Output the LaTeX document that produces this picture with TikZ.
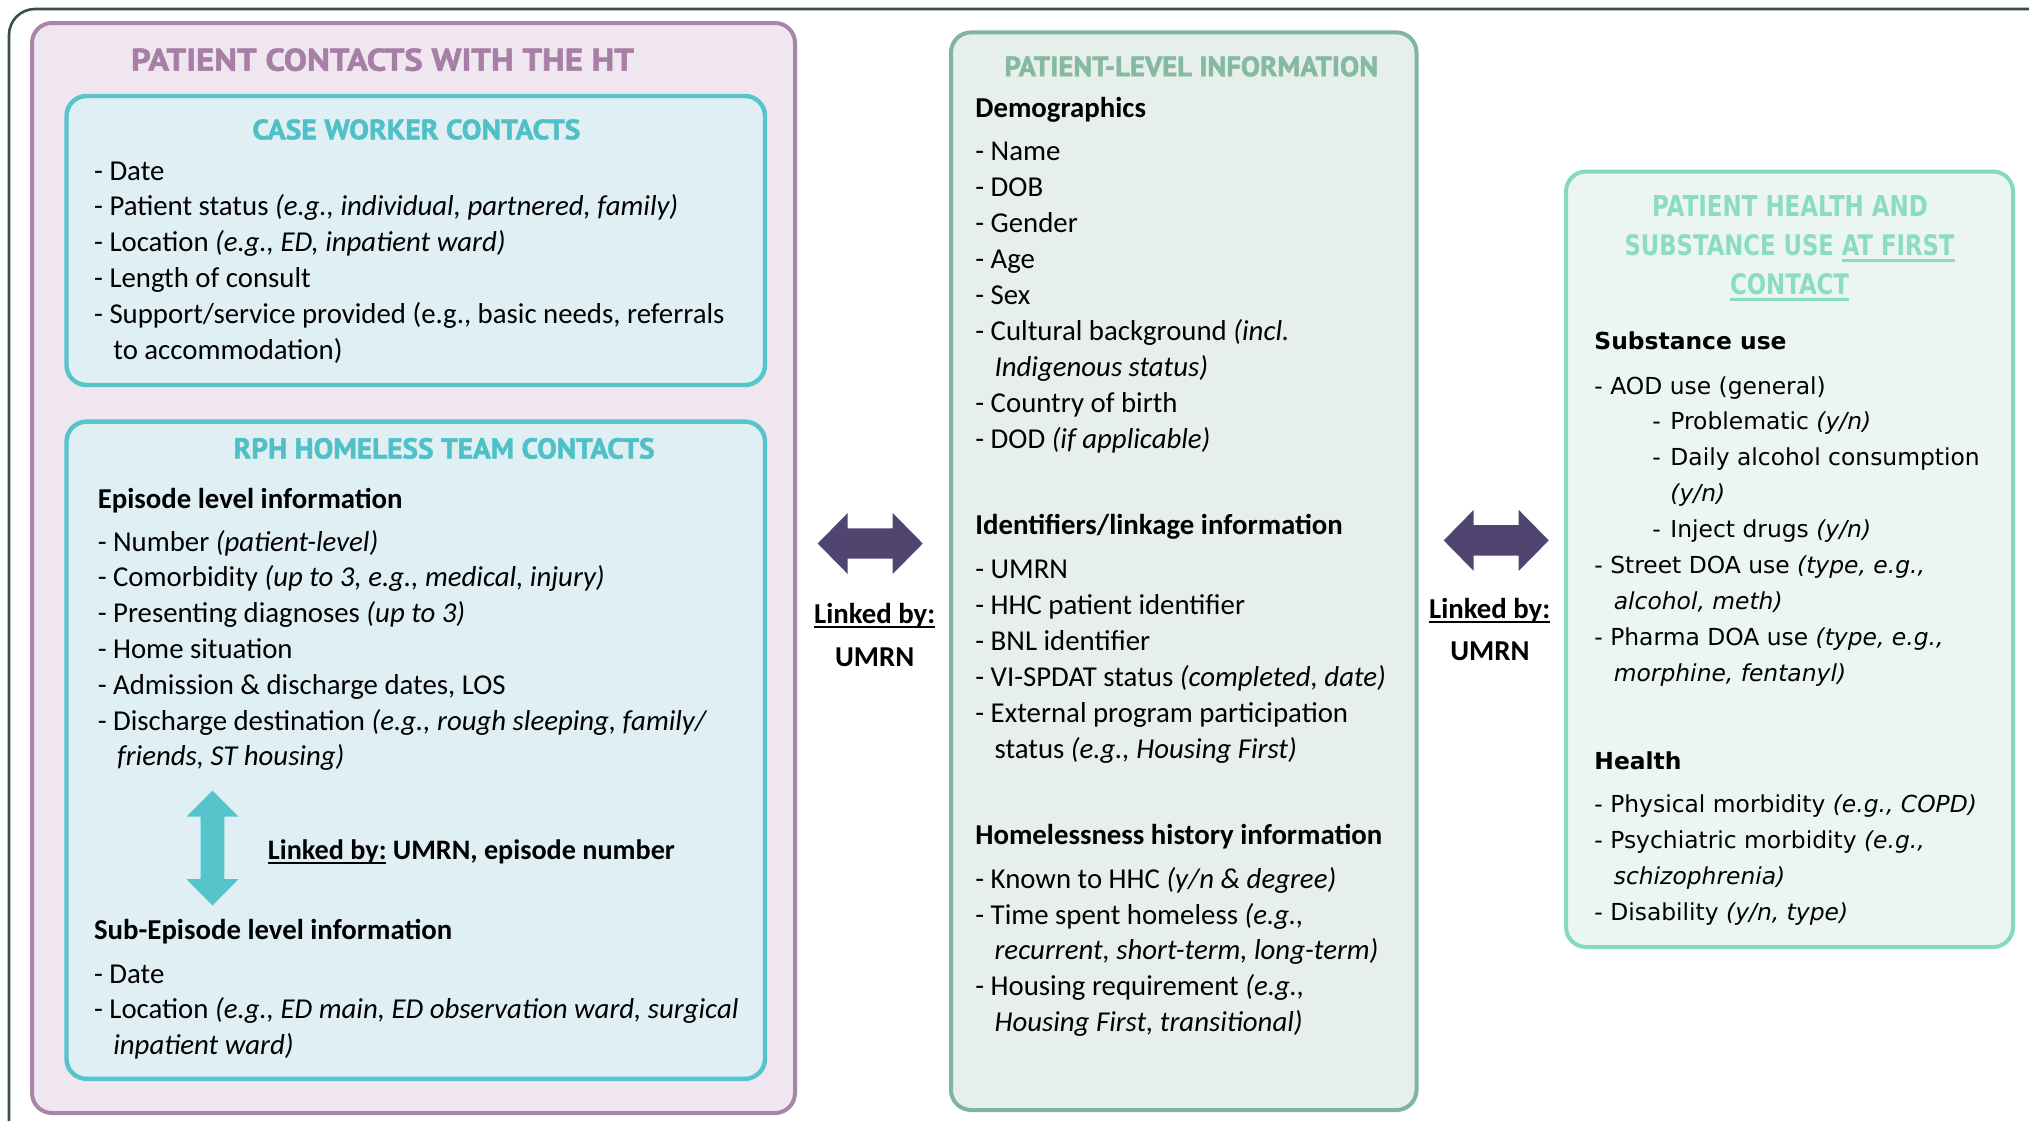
\documentclass[tikz,border=0pt]{standalone}
\usepackage{fontspec}
\usepackage{graphicx}
\setmainfont{Carlito}
\newfontfamily\verdanalike{DejaVu Sans}
\newfontfamily\condhead{PT Sans}[BoldFeatures={FakeBold=1.6}]
\newfontfamily\widehead{DejaVu Sans}

\definecolor{outerline}{HTML}{3B4F47}
\definecolor{plumline}{HTML}{A885A9}
\definecolor{plumfill}{HTML}{EFE6EF}
\definecolor{plumtext}{HTML}{A77FA6}
\definecolor{tealline}{HTML}{56C4CB}
\definecolor{tealfill}{HTML}{DFEFF4}
\definecolor{tealtext}{HTML}{50C0C7}
\definecolor{sageline}{HTML}{7FB59F}
\definecolor{sagefill}{HTML}{E6EFEA}
\definecolor{sagetext}{HTML}{86B9A3}
\definecolor{mintline}{HTML}{86D8C1}
\definecolor{mintfill}{HTML}{EBF6F2}
\definecolor{minttext}{HTML}{8CDCC4}
\definecolor{linkarrow}{HTML}{4F4570}

% thick underline used for the "Linked by:" labels and the underlined title words
\newcommand\thickul[2][0.9pt]{\setbox0\hbox{#2}\rlap{\rule[-2.3pt]{\wd0}{#1}}\box0}
\newcommand\contind{\hspace*{9.6pt}}
\newcommand\rcont{\hspace*{9.7pt}}
\newcommand\nesteditem[1]{\hspace*{29pt}\makebox[9pt][l]{-}#1}
\newcommand\nestedcont[1]{\hspace*{38pt}#1}
% a block of lines whose reference point is the baseline of its first line
\newcommand\itemlines[1]{\begin{tabular}[t]{@{}l@{}}#1\end{tabular}}

\tikzset{
  panel/.style={rounded corners=10pt, line width=2pt, inner sep=0pt},
  body/.style={anchor=base west, inner sep=0pt,
               font=\fontsize{14.4}{17.9}\selectfont},
  bodyhead/.style={body, font=\fontsize{14.4}{17.9}\selectfont\bfseries},
  rbody/.style={anchor=base west, inner sep=0pt,
                font=\verdanalike\fontsize{11.7}{17.95}\selectfont},
  rhead/.style={rbody, font=\verdanalike\fontsize{11.7}{17.95}\selectfont\bfseries},
  ttl/.style={anchor=base, inner sep=0pt},
  linklbl/.style={anchor=base, inner sep=0pt, font=\fontsize{14.4}{17.9}\selectfont\bfseries},
}

\begin{document}
\begin{tikzpicture}[x=0.5pt,y=-0.5pt]
\path[use as bounding box] (0,0) rectangle (2029,1120);
\fill[white] (0,0) rectangle (2029,1120);
\clip (0,0) rectangle (2029,1120);

% outer frame (runs off the right and bottom edges)
\draw[outerline, line width=1.3pt, rounded corners=13pt] (9,9) rectangle (2080,1170);

% ---------- left column: contacts with the HT ----------
\node[panel, draw=plumline, fill=plumfill, minimum width=381.5pt, minimum height=545pt]
  (plum) at (413.5,568) {};
\node[ttl, text=plumtext] (plumtitle) at (382.5,70.7)
  {\resizebox{251.5pt}{11.2pt}{\condhead\bfseries PATIENT CONTACTS WITH THE HT}};

\node[panel, draw=tealline, fill=tealfill, line width=2.2pt, minimum width=349.25pt, minimum height=144.5pt]
  (casework) at (415.75,240.5) {};
\node[ttl, text=tealtext] (caseworktitle) at (416.4,139.3)
  {\resizebox{164pt}{10pt}{\condhead\bfseries CASE WORKER CONTACTS}};
\node[body] (caseworkitems) at (93.8,180) {\itemlines{%
- Date\\
- Patient status \textit{(e.g., individual, partnered, family)}\\
- Location \textit{(e.g., ED, inpatient ward)}\\
- Length of consult\\
- Support/service provided (e.g., basic needs, referrals\\
\contind to accommodation)}};

\node[panel, draw=tealline, fill=tealfill, line width=2.2pt, minimum width=349.25pt, minimum height=328.6pt]
  (rph) at (415.75,750.2) {};
\node[ttl, text=tealtext] (rphtitle) at (444.1,458.5)
  {\resizebox{210.5pt}{10.3pt}{\condhead\bfseries RPH HOMELESS TEAM CONTACTS}};
\node[bodyhead] (episodehead) at (97.4,508.3) {Episode level information};
\node[body] (episodeitems) at (97.4,551) {\itemlines{%
- Number \textit{(patient-level)}\\
- Comorbidity \textit{(up to 3, e.g., medical, injury)}\\
- Presenting diagnoses \textit{(up to 3)}\\
- Home situation\\
- Admission \& discharge dates, LOS\\
- Discharge destination \textit{(e.g., rough sleeping, family/}\\
\contind\textit{friends, ST housing)}}};

% vertical link between episode and sub-episode levels
\coordinate (vlink) at (212.5,848);
\fill[tealline] (vlink) ++(0,-57.5) -- ++(26,26) -- ++(-14.2,0) -- ++(0,62.7) -- ++(14.2,0)
  -- ++(-26,26.3) -- ++(-26,-26.3) -- ++(14.2,0) -- ++(0,-62.7) -- ++(-14.2,0) -- cycle;
\node[body, font=\fontsize{14.1}{17.9}\selectfont\bfseries] (episodelink) at (267.5,859.4)
  {\thickul{Linked by:}\ UMRN, episode number};

\node[bodyhead] (subhead) at (93.7,939) {Sub-Episode level information};
\node[body] (subitems) at (93.7,983) {\itemlines{%
- Date\\
- Location \textit{(e.g., ED main, ED observation ward, surgical}\\
\contind\textit{inpatient ward)}}};

% ---------- middle column: patient-level information ----------
\node[panel, draw=sageline, fill=sagefill, minimum width=232.75pt, minimum height=538.8pt]
  (mid) at (1183.75,571.2) {};
\node[ttl, text=sagetext] (midtitle) at (1191.3,76.2)
  {\resizebox{186.8pt}{10pt}{\condhead\bfseries PATIENT-LEVEL INFORMATION}};
\node[bodyhead] (demohead) at (975,117.4) {Demographics};
\node[body, font=\fontsize{14.4}{18}\selectfont] (demoitems) at (975,160) {\itemlines{%
- Name\\
- DOB\\
- Gender\\
- Age\\
- Sex\\
- Cultural background \textit{(incl.}\\
\contind\textit{Indigenous status)}\\
- Country of birth\\
- DOD \textit{(if applicable)}}};
\node[bodyhead] (idhead) at (975,534) {Identifiers/linkage information};
\node[body, font=\fontsize{14.4}{18}\selectfont] (iditems) at (975,578) {\itemlines{%
- UMRN\\
- HHC patient identifier\\
- BNL identifier\\
- VI-SPDAT status \textit{(completed, date)}\\
- External program participation\\
\contind status \textit{(e.g., Housing First)}}};
\node[bodyhead] (homehead) at (975,844.6) {Homelessness history information};
\node[body, font=\fontsize{14.4}{17.8}\selectfont] (homeitems) at (975,888.6) {\itemlines{%
- Known to HHC \textit{(y/n \& degree)}\\
- Time spent homeless \textit{(e.g.,}\\
\contind\textit{recurrent, short-term, long-term)}\\
- Housing requirement \textit{(e.g.,}\\
\contind\textit{Housing First, transitional)}}};

% ---------- right column: health and substance use ----------
\node[panel, draw=mintline, fill=mintfill, minimum width=223.5pt, minimum height=387.75pt]
  (mint) at (1789.5,559.25) {};
\node[ttl, text=minttext] (minttitleA) at (1790,216)
  {\resizebox{138pt}{10.5pt}{\widehead\bfseries PATIENT HEALTH AND}};
\node[ttl, text=minttext] (minttitleB) at (1789.5,255.4)
  {\resizebox{165pt}{10.5pt}{\widehead\bfseries SUBSTANCE USE \thickul[1.1pt]{AT FIRST}}};
\node[ttl, text=minttext] (minttitleC) at (1789.5,294.7)
  {\resizebox{59.5pt}{10.5pt}{\widehead\bfseries\thickul[1.1pt]{CONTACT}}};
\node[rhead] (subsusehead) at (1594,349.8) {Substance use};
\node[rbody] (subsuseitems) at (1594,394) {\itemlines{%
- AOD use (general)\\
\nesteditem{Problematic \textit{(y/n)}}\\
\nesteditem{Daily alcohol consumption}\\
\nestedcont{\textit{(y/n)}}\\
\nesteditem{Inject drugs \textit{(y/n)}}\\
- Street DOA use \textit{(type, e.g.,}\\
\rcont\textit{alcohol, meth)}\\
- Pharma DOA use \textit{(type, e.g.,}\\
\rcont\textit{morphine, fentanyl)}}};
\node[rhead] (healthhead) at (1594,769) {Health};
\node[rbody, font=\verdanalike\fontsize{11.7}{18}\selectfont] (healthitems) at (1594,812) {\itemlines{%
- Physical morbidity \textit{(e.g., COPD)}\\
- Psychiatric morbidity \textit{(e.g.,}\\
\rcont\textit{schizophrenia)}\\
- Disability \textit{(y/n, type)}}};

% ---------- links between the columns ----------
\coordinate (linkL) at (870.2,543.5);
\coordinate (linkR) at (1496.2,540.4);
\foreach \c in {linkL,linkR}{
  \fill[linkarrow] (\c) ++(-52.5,0) -- ++(30,-30.5) -- ++(0,15.3) -- ++(45,0) -- ++(0,-15.3)
    -- ++(30,30.5) -- ++(-30,30.5) -- ++(0,-15.3) -- ++(-45,0) -- ++(0,15.3) -- cycle;
}
\node[linklbl] (linkLby) at (874.7,623) {\thickul{Linked by:}};
\node[linklbl] (linkLkey) at (874.7,666) {UMRN};
\node[linklbl] (linkRby) at (1489.7,618) {\thickul{Linked by:}};
\node[linklbl] (linkRkey) at (1490,660.7) {UMRN};
\end{tikzpicture}
\end{document}
